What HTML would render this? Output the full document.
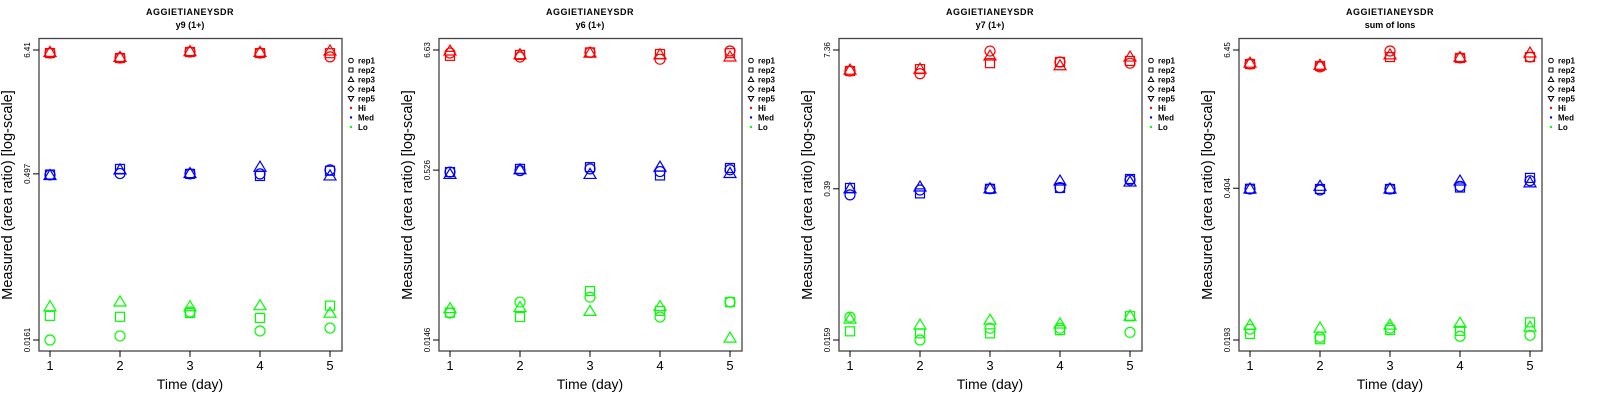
<!DOCTYPE html>
<html><head><meta charset="utf-8"><style>
html,body{margin:0;padding:0;background:#fff;width:1600px;height:400px;overflow:hidden}
svg{display:block;font-family:"Liberation Sans",sans-serif}
</style></head><body>
<svg id="chart" width="1600" height="400" viewBox="0 0 1600 400"></svg>
<script>
const days=[1,2,3,4,5];
const panelTitles=["y9 (1+)","y6 (1+)","y7 (1+)","sum of Ions"];
const peptide="AGGIETIANEYSDR";
const yTickLabels=[["6.41","0.497","0.0161"],["6.63","0.526","0.0146"],["7.36","0.39","0.0159"],["6.45","0.404","0.0193"]];
const yMaxs=[6.41,6.63,7.36,6.45];
const yMins=[0.0161,0.0146,0.0159,0.0193];
const yMids=[0.497,0.526,0.39,0.404];
const levels=["Hi","Med","Lo"];
const levelColors=["#ff0000","#0000ff","#00ff00"];
const reps=["rep1","rep2","rep3"];
// values[panel][level][rep][day]
const p1Hi=[[6.02,5.43,6.15,6.02,5.56],[6.02,5.43,6.15,6.02,6.0],[6.1,5.5,6.2,6.1,6.28]];
const p1Med=[[0.486,0.50,0.497,0.497,0.54],[0.49,0.55,0.497,0.476,0.53],[0.48,0.54,0.50,0.57,0.476]];
const p1Lo=[[0.0161,0.0175,0.0287,0.0194,0.0206],[0.0265,0.026,0.0281,0.0254,0.0327],[0.032,0.0353,0.032,0.0327,0.028]];
const p2Hi=[[6.22,5.72,6.3,5.46,6.49],[5.86,5.98,6.3,6.09,6.2],[6.49,6.0,6.2,6.0,5.72]];
const p2Med=[[0.505,0.52,0.54,0.51,0.53],[0.505,0.54,0.56,0.47,0.55],[0.48,0.53,0.48,0.56,0.49]];
const p2Lo=[[0.0258,0.0325,0.0361,0.0237,0.0325],[0.026,0.0237,0.041,0.027,0.0325],[0.0283,0.029,0.0267,0.0296,0.0152]];
const p3Hi=[[4.72,4.45,7.2,5.71,5.57],[4.72,4.91,5.57,5.71,5.84],[4.8,4.91,6.48,5.27,6.34]];
const p3Med=[[0.343,0.38,0.39,0.40,0.47],[0.397,0.354,0.39,0.397,0.48],[0.39,0.405,0.39,0.46,0.45]];
const p3Lo=[[0.0258,0.0159,0.0204,0.0204,0.0187],[0.0191,0.0183,0.0183,0.0196,0.0263],[0.0247,0.0218,0.0242,0.0223,0.0263]];
const p4Hi=[[4.87,4.6,6.32,5.5,5.6],[4.87,4.68,5.6,5.5,5.6],[4.95,4.75,5.85,5.55,6.07]];
const p4Med=[[0.398,0.39,0.398,0.42,0.47],[0.40,0.398,0.398,0.41,0.497],[0.398,0.42,0.398,0.467,0.45]];
const p4Lo=[[0.024,0.0204,0.0245,0.0208,0.0212],[0.0218,0.0196,0.0236,0.0232,0.0275],[0.026,0.0245,0.026,0.027,0.025]];
const values=[[p1Hi,p1Med,p1Lo],[p2Hi,p2Med,p2Lo],[p3Hi,p3Med,p3Lo],[p4Hi,p4Med,p4Lo]];

const NS="http://www.w3.org/2000/svg";
const svg=document.getElementById('chart');
function mk(tag,attrs,parent){const e=document.createElementNS(NS,tag);for(const k in attrs)e.setAttribute(k,attrs[k]);(parent||svg).appendChild(e);return e;}
function marker(g,shape,cx,cy,color){
  let e;
  if(shape===0){e=mk('circle',{cx:cx,cy:cy,r:5,fill:'none',stroke:color,'stroke-width':1.2},g);}
  else if(shape===1){e=mk('rect',{x:cx-4.5,y:cy-4.5,width:9,height:9,fill:'none',stroke:color,'stroke-width':1.2},g);}
  else {e=mk('polygon',{points:`${cx},${cy-6} ${cx-6},${cy+4} ${cx+6},${cy+4}`,fill:'none',stroke:color,'stroke-width':1.2},g);}
  return e;
}
for(let p=0;p<4;p++){
  const ox=p*400;
  const g=mk('g',{transform:`translate(${ox},0)`});
  
  
  const L=Math.log(yMaxs[p]/yMins[p]);
  const ys=v=>50+Math.log(yMaxs[p]/v)/L*290;
  const xs=d=>50+(d-1)*70;
  let t=mk('text',{x:190,y:15,'font-size':9,'font-weight':'bold','text-anchor':'middle','letter-spacing':'0.5'},g);t.textContent=peptide;
  
  t=mk('text',{x:190,y:28,'font-size':9,'font-weight':'bold','text-anchor':'middle'},g);t.textContent=panelTitles[p];
  
  const box=mk('rect',{x:39,y:38.5,width:303,height:312.5,fill:'none',stroke:'#444','stroke-width':1.3},g);
  
  const tv=[yMaxs[p],yMids[p],yMins[p]];
  tv.forEach((v,i)=>{
    const y=ys(v);
    mk('line',{x1:33,x2:39,y1:y,y2:y,stroke:'#000','stroke-width':1},g);
    const lt=mk('text',{x:0,y:0,'font-size':8,'text-anchor':'middle',transform:`translate(30,${y}) rotate(-90)`},g);
    lt.textContent=yTickLabels[p][i];
    
  });
  days.forEach(d=>{
    const x=xs(d);
    mk('line',{x1:x,x2:x,y1:351,y2:357,stroke:'#000','stroke-width':1},g);
    const lt=mk('text',{x:x,y:370,'font-size':13,'text-anchor':'middle'},g);lt.textContent=d;
    
  });
  t=mk('text',{x:190,y:389,'font-size':14,'text-anchor':'middle'},g);t.textContent='Time (day)';
  
  t=mk('text',{x:0,y:0,'font-size':14.5,'text-anchor':'middle',transform:'translate(12,195) rotate(-90)'},g);t.textContent='Measured (area ratio) [log-scale]';
  
  values[p].forEach((lv,li)=>{
    lv.forEach((rv,ri)=>{
      rv.forEach((v,di)=>{
        const m=marker(g,ri,xs(days[di]),ys(v),levelColors[li]);
        
        
      });
    });
  });
  const lg=mk('g',{},g);
  
  const legLabels=["rep1","rep2","rep3","rep4","rep5","Hi","Med","Lo"];
  legLabels.forEach((lab,i)=>{
    const y=60.5+i*9.5;const sx=351;
    if(i===0)mk('circle',{cx:sx,cy:y,r:2.3,fill:'none',stroke:'#000','stroke-width':1},lg);
    else if(i===1)mk('rect',{x:sx-2,y:y-2,width:4,height:4,fill:'none',stroke:'#000','stroke-width':1},lg);
    else if(i===2)mk('polygon',{points:`${sx},${y-2.7} ${sx-2.7},${y+2} ${sx+2.7},${y+2}`,fill:'none',stroke:'#000','stroke-width':1},lg);
    else if(i===3)mk('polygon',{points:`${sx},${y-2.8} ${sx+2.8},${y} ${sx},${y+2.8} ${sx-2.8},${y}`,fill:'none',stroke:'#000','stroke-width':1},lg);
    else if(i===4)mk('polygon',{points:`${sx},${y+2.7} ${sx-2.7},${y-2} ${sx+2.7},${y-2}`,fill:'none',stroke:'#000','stroke-width':1},lg);
    else mk('circle',{cx:sx,cy:y,r:1.2,fill:levelColors[i-5]},lg);
    const lt=mk('text',{x:358,y:y+3,'font-size':8,'font-weight':'bold'},lg);lt.textContent=lab;
    
  });
}
</script>
</body></html>
